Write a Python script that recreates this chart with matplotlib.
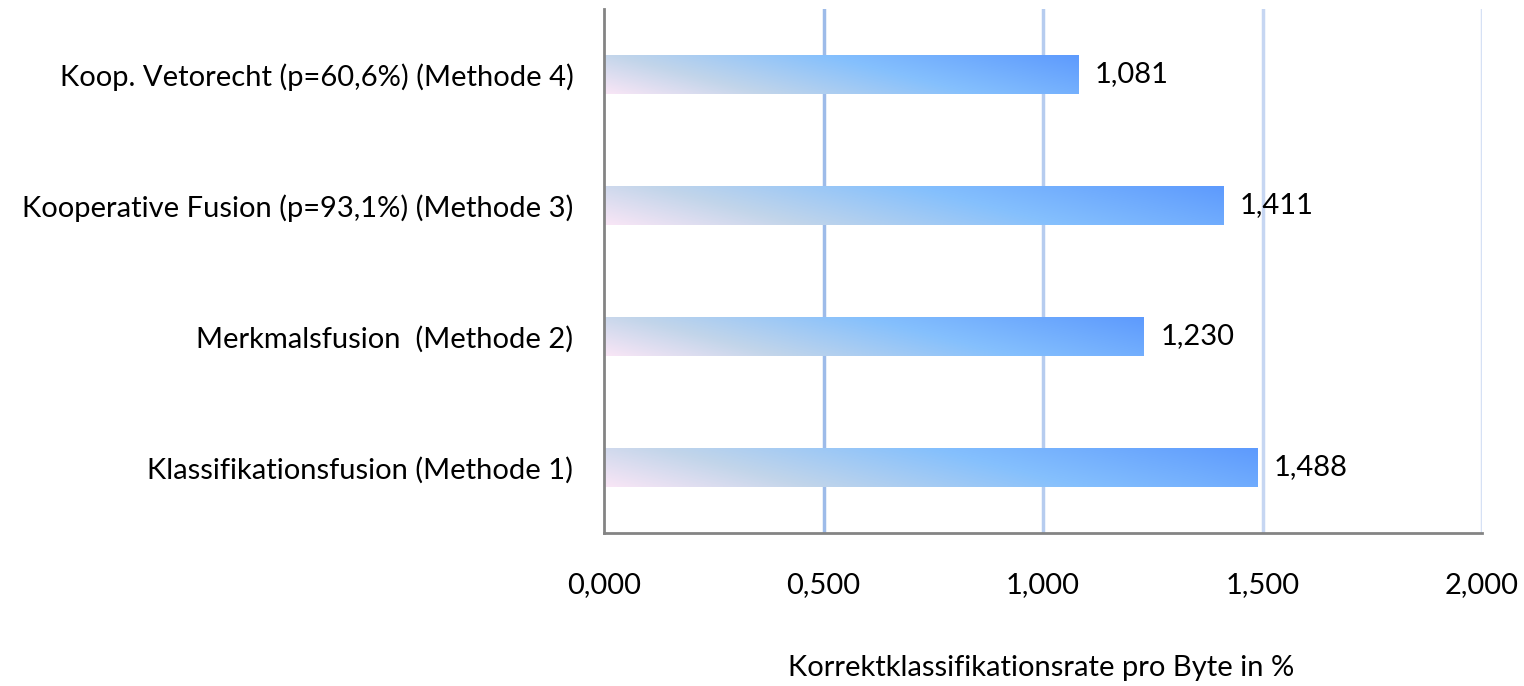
import numpy as np
import matplotlib
matplotlib.use("Agg")
import matplotlib.pyplot as plt
from matplotlib.colors import LinearSegmentedColormap
from matplotlib.patches import Rectangle

categories = [
    "Klassifikationsfusion (Methode 1)",
    "Merkmalsfusion  (Methode 2)",
    "Kooperative Fusion (p=93,1%) (Methode 3)",
    "Koop. Vetorecht (p=60,6%) (Methode 4)",
]
values = [1.488, 1.230, 1.411, 1.081]
xticks = [0.0, 0.5, 1.0, 1.5, 2.0]
xtick_labels = ["0,000", "0,500", "1,000", "1,500", "2,000"]
xlabel = "Korrektklassifikationsrate pro Byte in %"

plt.rcParams["font.family"] = ["Lato", "DejaVu Sans"]
FS = 21

fig = plt.figure(figsize=(15.24, 6.86), dpi=100)
ax = fig.add_axes([604 / 1524, 1 - 533 / 686, (1482 - 604) / 1524, (533 - 9) / 686])

ax.set_xlim(0, 2.0)
ax.set_ylim(-0.5, len(categories) - 0.5)

# vertical gridlines, fading towards the right
grid_colors = ["#9dbbe9", "#b6ccef", "#c6d6f2", "#d6e1f5"]
for xv, c in zip(xticks[1:], grid_colors):
    ax.axvline(xv, color=c, lw=2.5, zorder=0.5)

cmap = LinearSegmentedColormap.from_list(
    "barfill",
    [(0.0, "#f9e6f6"), (0.25, "#c2d5ea"), (0.59, "#85c0fd"), (1.0, "#5d9afd")],
)

bar_h = 0.305
px_per_unit = (1482 - 604) / 2.0
px_per_cat = (533 - 9) / len(categories)
for i, v in enumerate(values):
    y0 = i - bar_h / 2
    rect = Rectangle((0, y0), v, bar_h, facecolor="none", edgecolor="none")
    ax.add_patch(rect)
    wpx = v * px_per_unit
    hpx = bar_h * px_per_cat
    nx, ny = 400, 40
    xs = np.linspace(0, wpx, nx)
    ys = np.linspace(0, hpx, ny)
    X, Y = np.meshgrid(xs, ys)
    u = X + 3.75 * Y
    s = u / u.max()
    im = ax.imshow(
        s, cmap=cmap, extent=(0, v, y0, y0 + bar_h), origin="lower",
        aspect="auto", interpolation="bilinear", zorder=2, vmin=0, vmax=1,
    )
    im.set_clip_path(rect)
    ax.text(v + 0.037, i, f"{v:.3f}".replace(".", ","), va="center", ha="left",
            fontsize=FS, color="black")

ax.set_yticks(range(len(categories)))
ax.set_yticklabels(categories, fontsize=FS)
ax.set_xticks(xticks)
ax.set_xticklabels(xtick_labels, fontsize=FS)
ax.tick_params(axis="both", length=0)
ax.tick_params(axis="x", pad=28)
ax.tick_params(axis="y", pad=22)
fig.text(1041 / 1524, 1 - 668 / 686, xlabel, fontsize=FS, ha="center", va="center")

for side in ["top", "right"]:
    ax.spines[side].set_visible(False)
for side in ["left", "bottom"]:
    ax.spines[side].set_color("#848484")
    ax.spines[side].set_linewidth(2)

fig.savefig("out.png", dpi=100)
